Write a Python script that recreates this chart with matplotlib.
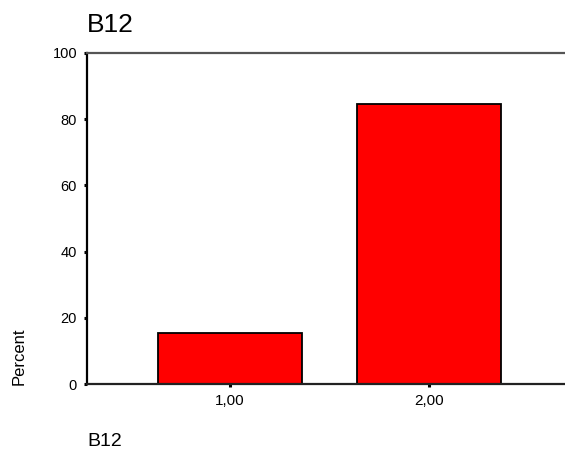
import matplotlib
matplotlib.use("Agg")
import matplotlib.pyplot as plt

categories = ["1,00", "2,00"]
positions = [1, 2]
percent = [15.4, 84.6]
yticks = [0, 20, 40, 60, 80, 100]

plt.rcParams['font.family'] = ['Liberation Sans', 'DejaVu Sans']

W, H = 565, 449
fig = plt.figure(figsize=(W / 100, H / 100), dpi=100)
ax = fig.add_axes([87 / W, 1 - 384 / H, (564 - 87) / W, (384 - 53) / H])

ax.bar(positions, percent, width=0.72, color='#ff0000', edgecolor='black', linewidth=1.3, zorder=2)

ax.set_xlim(0.281, 2.678)
ax.set_ylim(0, 100)
ax.set_xticks(positions)
ax.set_xticklabels(categories, fontsize=11)
ax.set_yticks(yticks)
ax.set_yticklabels([str(v) for v in yticks], fontsize=10.5)

ax.spines['right'].set_visible(False)
ax.spines['left'].set_linewidth(1.6)
ax.spines['left'].set_color('black')
ax.spines['bottom'].set_linewidth(1.6)
ax.spines['bottom'].set_color('#222222')
ax.spines['top'].set_linewidth(1.6)
ax.spines['top'].set_color('#555555')
ax.tick_params(axis='both', direction='out', length=2.2, width=2.2, color='black')
ax.tick_params(axis='y', pad=5)
ax.tick_params(axis='x', pad=5)

fig.text(87 / W, 1 - 32 / H, "B12", fontsize=19, ha='left', va='baseline')
fig.text(87 / W, 1 - 446 / H, "B12", fontsize=14, ha='left', va='baseline')
fig.text(19 / W, 1 - 356 / H, "Percent", fontsize=12, rotation=90, ha='center', va='center')

fig.savefig("out.png", dpi=100)
